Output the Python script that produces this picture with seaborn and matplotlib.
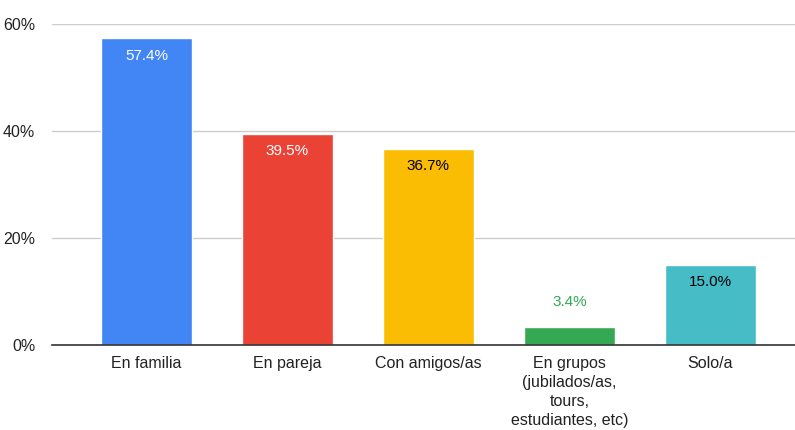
import matplotlib
matplotlib.use("Agg")
import matplotlib.pyplot as plt
import seaborn as sns
import pandas as pd

categorias = ['En familia', 'En pareja', 'Con amigos/as',
              'En grupos\n(jubilados/as,\ntours,\nestudiantes, etc)', 'Solo/a']
valores = [57.4, 39.5, 36.7, 3.4, 15.0]
colores = ['#4285F4', '#EA4335', '#FBBC04', '#34A853', '#46BDC6']
color_etiqueta = ['white', 'white', 'black', '#34A853', 'black']
etiqueta_dentro = [True, True, True, False, True]

df = pd.DataFrame({'categoria': categorias, 'valor': valores})

sns.set_style('white')
plt.rcParams['font.family'] = ['Liberation Sans', 'DejaVu Sans']

fig = plt.figure(figsize=(7.95, 4.30), dpi=100)
ax = fig.add_axes([52 / 795, 1 - 345 / 430, 1 - 52 / 795, (345 - 24) / 430])

sns.barplot(data=df, x='categoria', y='valor', hue='categoria', palette=colores,
            legend=False, width=0.64, saturation=1, ax=ax)

for i, v in enumerate(valores):
    txt = '{:.1f}%'.format(v)
    if etiqueta_dentro[i]:
        ax.text(i, v - 3.3, txt, ha='center', va='center', fontsize=11, color=color_etiqueta[i])
    else:
        ax.text(i, v + 4.6, txt, ha='center', va='center', fontsize=11, color=color_etiqueta[i])

ax.set_xlim(-0.67, 4.6)
ax.set_ylim(0, 60)
ax.set_yticks([0, 20, 40, 60])
ax.set_yticklabels(['0%', '20%', '40%', '60%'], fontsize=11.5, color='#222222')
ax.tick_params(axis='x', labelsize=11.5, colors='#222222', length=0, pad=8)
ax.tick_params(axis='y', length=0, pad=12)
for lab in ax.get_xticklabels():
    lab.set_linespacing(1.32)
    lab.set_va('top')
ax.set_xlabel('')
ax.set_ylabel('')
ax.yaxis.grid(True, color='#cccccc', linewidth=1)
ax.set_axisbelow(True)
for s in ['top', 'right', 'left']:
    ax.spines[s].set_visible(False)
ax.spines['bottom'].set_color('#333333')
ax.spines['bottom'].set_linewidth(1.2)
ax.spines['bottom'].set_zorder(5)

fig.savefig('out.png', dpi=100)
